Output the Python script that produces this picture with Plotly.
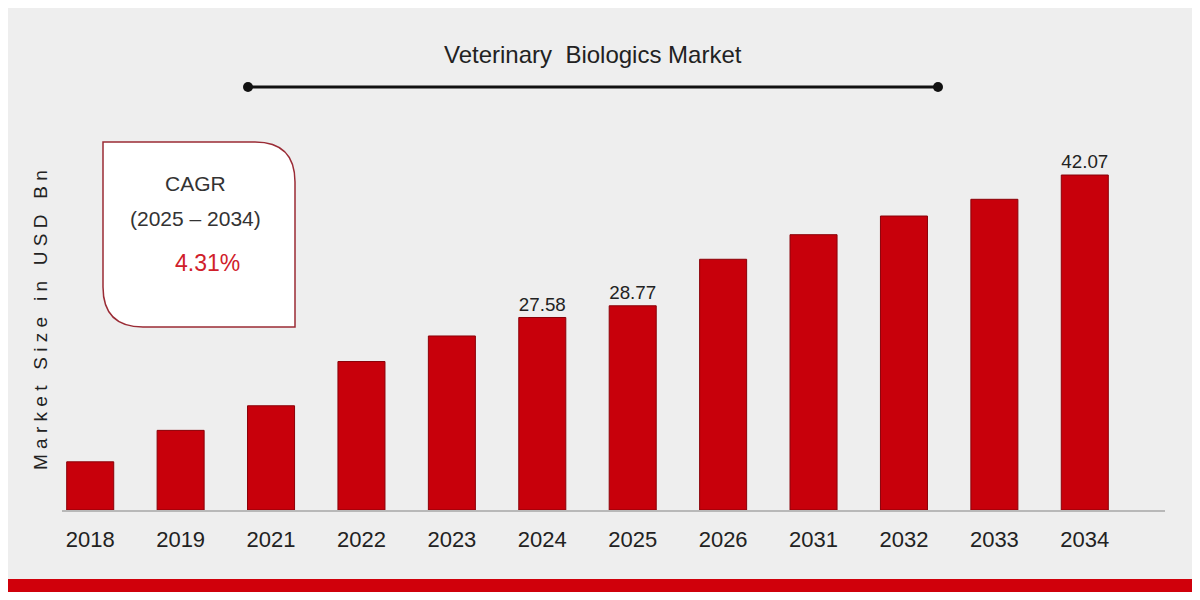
import plotly.graph_objects as go

years = ["2018", "2019", "2021", "2022", "2023", "2024", "2025", "2026", "2031", "2032", "2033", "2034"]
market_size = [12.9, 16.1, 18.6, 23.1, 25.7, 27.58, 28.77, 33.5, 36.0, 37.9, 39.6, 42.07]
labels = ["", "", "", "", "", "27.58", "28.77", "", "", "", "", "42.07"]

# page is drawn with an 8px offset, so the figure is a little smaller
L, PW = 37, 1085


def px_x(p):
    return (p - 8 - L) / PW


def px_y(p):
    return (510 - p) / 410


fig = go.Figure()
fig.add_trace(
    go.Bar(
        x=years,
        y=[v - 8 for v in market_size],
        base=8,
        text=labels,
        textposition="outside",
        textfont=dict(size=21, color="#222"),
        cliponaxis=False,
        marker=dict(color="#c8000b", line=dict(color="#8a0008", width=1)),
        width=0.52,
    )
)

fig.update_layout(
    width=1184,
    height=584,
    paper_bgcolor="#eeeeee",
    plot_bgcolor="rgba(0,0,0,0)",
    margin=dict(l=L, r=1184 - L - PW, t=92, b=82),
    showlegend=False,
    font=dict(family="Liberation Sans, Arial", color="#222"),
    xaxis=dict(
        tickfont=dict(size=22),
        ticklabelstandoff=14,
        showline=False,
        ticks="",
        showgrid=False,
    ),
    yaxis=dict(range=[8, 49.7], visible=False),
)

# baseline
fig.add_shape(type="line", xref="paper", yref="paper", x0=px_x(62), x1=px_x(1165),
              y0=px_y(511), y1=px_y(511), line=dict(color="#b8b8b8", width=2))

fig.add_annotation(
    text="Veterinary  Biologics Market", x=px_x(593), y=px_y(55), xref="paper", yref="paper",
    xanchor="center", yanchor="middle", showarrow=False, font=dict(size=24, color="#222"),
)

fig.add_shape(type="line", xref="paper", yref="paper", x0=px_x(248), x1=px_x(938),
              y0=px_y(87), y1=px_y(87), line=dict(color="#111", width=3))
for xp in (248, 938):
    fig.add_shape(type="circle", xref="paper", yref="paper",
                  x0=px_x(xp - 5), x1=px_x(xp + 5), y0=px_y(92), y1=px_y(82),
                  fillcolor="#111", line=dict(width=0))

# CAGR box
fig.add_shape(type="path", xref="paper", yref="paper",
              path=(f"M {px_x(103)},{px_y(142)} L {px_x(255)},{px_y(142)} "
                    f"Q {px_x(295)},{px_y(142)} {px_x(295)},{px_y(182)} "
                    f"L {px_x(295)},{px_y(327)} L {px_x(143)},{px_y(327)} "
                    f"Q {px_x(103)},{px_y(327)} {px_x(103)},{px_y(287)} Z"),
              fillcolor="#ffffff", line=dict(color="#9a2b35", width=1.5))
fig.add_annotation(text="CAGR", x=px_x(195), y=px_y(183), xref="paper", yref="paper",
                   xanchor="center", yanchor="middle", showarrow=False,
                   font=dict(size=21, color="#333"))
fig.add_annotation(text="(2025 – 2034)", x=px_x(195), y=px_y(218), xref="paper", yref="paper",
                   xanchor="center", yanchor="middle", showarrow=False,
                   font=dict(size=21, color="#333"))
fig.add_annotation(text="4.31%", x=px_x(207), y=px_y(263), xref="paper", yref="paper",
                   xanchor="center", yanchor="middle", showarrow=False,
                   font=dict(size=23, color="#d0202a"))

fig.add_annotation(text="M a r k e t   S i z e   i n   U S D   B n", x=px_x(40), y=px_y(320),
                   xref="paper", yref="paper", xanchor="center", yanchor="middle",
                   textangle=-90, showarrow=False, font=dict(size=19, color="#222"))

# bottom red band
fig.add_shape(type="rect", xref="paper", yref="paper", x0=px_x(0), x1=px_x(1200),
              y0=px_y(592), y1=px_y(579), fillcolor="#d0000b", line=dict(width=0))

fig.write_html("out.html")
